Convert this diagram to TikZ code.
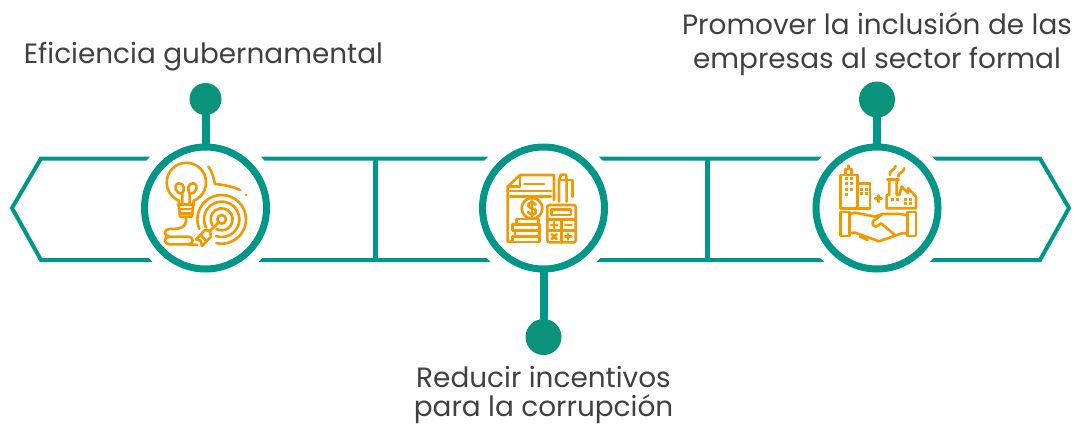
\documentclass[tikz,border=0pt]{standalone}
\usepackage{fontspec}
\setmainfont{Poppins}
\definecolor{teal1}{HTML}{009688}
\definecolor{teal2}{HTML}{0A927A}
\definecolor{ico}{HTML}{F39800}
\definecolor{txt}{HTML}{404040}
\tikzset{
  band/.style={draw=teal1,line width=4pt,line join=miter},
  sepline/.style={draw=teal1,line width=5pt},
  ringnode/.style={circle,draw=teal1,fill=white,line width=7pt,minimum size=122pt,inner sep=0pt},
  halo/.style={circle,fill=white,minimum size=151pt,inner sep=0pt},
  dotnode/.style={circle,fill=teal2,inner sep=0pt},
  stemline/.style={draw=teal1,line width=8pt,shorten >=-2pt,shorten <=-2pt},
  label/.style={font=\fontsize{27.9pt}{30pt}\selectfont,text=txt,anchor=base,inner sep=0pt},
  icon/.style={draw=ico,line width=2.6pt,line cap=round,line join=round},
}
\begin{document}
\begin{tikzpicture}[x=1pt,y=-1pt]
\useasboundingbox (0,0) rectangle (1075,423);
% band
\coordinate (tl) at (41,158.5); \coordinate (tr) at (1040,158.5);
\coordinate (bl) at (41,260); \coordinate (br) at (1040,260);
\coordinate (lt) at (12,208); \coordinate (rt) at (1069,208);
\draw[band] (lt) -- (tl) -- (tr) -- (rt) -- (br) -- (bl) -- cycle;
\coordinate (s1a) at (375,158.5); \coordinate (s1b) at (375,260);
\coordinate (s2a) at (707,158.5); \coordinate (s2b) at (707,260);
\draw[sepline] (s1a) -- (s1b);
\draw[sepline] (s2a) -- (s2b);
\node[halo] (h1) at (205.5,208) {};
\node[halo] (h2) at (543.5,208) {};
\node[halo] (h3) at (877,208) {};
% rings and stems
\node[ringnode] (r1) at (205.5,208) {};
\node[ringnode] (r2) at (543.5,208) {};
\node[ringnode] (r3) at (877,208) {};
\node[dotnode,minimum size=32pt] (d1) at (205.5,99) {};
\node[dotnode,minimum size=36pt] (d2) at (543.5,337) {};
\node[dotnode,minimum size=36pt] (d3) at (877,99.5) {};
\draw[stemline] (d1) -- (r1);
\draw[stemline] (d2) -- (r2);
\draw[stemline] (d3) -- (r3);
% labels
\node[label] (t1) at (203.5,63) {Eficiencia gubernamental};
\node[label] (t2a) at (877,34) {Promover la inclusión de las};
\node[label] (t2b) at (877,68) {empresas al sector formal};
\node[label] (t3a) at (543.5,387) {Reducir incentivos};
\node[label] (t3b) at (543.5,416) {para la corrupción};
% icon 1
\begin{scope}[shift={(160,160)},x=0.3333pt,y=-0.3333pt,icon]
\draw (57,130) -- (57,122) arc[start angle=112,end angle=428,radius=59] -- (100,130);
\draw (67,132) -- (67,100) .. controls (45,103) and (38,72) .. (57,70) .. controls (74,70) and (74,90) .. (67,100);
\draw (89,132) -- (89,100) .. controls (111,103) and (118,72) .. (99,70) .. controls (82,70) and (82,90) .. (89,100);
\draw (54,133) -- (102,133) (56,147) -- (100,147) (58,160) -- (98,160);
\draw (56,133) -- (60,170) -- (96,170) -- (100,133);
\draw (78,172) -- (78,185) .. controls (75,205) and (55,207) .. (28,207) .. controls (10,207) and (10,230) .. (28,230) -- (85,230) .. controls (102,230) and (102,253) .. (85,253) -- (28,253) .. controls (10,253) and (10,230) .. (28,230);
\draw (85,253) -- (112,255);
\draw (185,178) circle[radius=13];
\draw (185,178) ++(148:33) arc[start angle=148,end angle=477,radius=33];
\draw (185,178) ++(152:53) arc[start angle=152,end angle=469,radius=53];
\draw (185,178) ++(157:73) arc[start angle=157,end angle=463,radius=73];
\draw (177,186) -- (150,213);
\draw (150,213) -- (135,210) -- (108,238) -- (122,242) -- (126,258) -- (153,230) -- cycle;
\draw (122,224) -- (138,243);
\draw (145,20) .. controls (160,40) and (160,55) .. (165,72) .. controls (190,74) and (220,80) .. (240,90);
\fill[ico,draw=none] (258,105) circle[radius=4];
\end{scope}
% icon 2
\begin{scope}[shift={(470,140)},x=0.3333pt,y=-0.3333pt,icon]
\draw (252,180) -- (252,105) -- (150,105) -- (113,140) -- (113,305) -- (128,305);
\draw (150,105) -- (150,140) -- (113,140);
\draw (163,132) -- (222,132) (120,153) -- (243,153) (120,170) -- (243,170);
\draw[fill=white] (186,205) circle[radius=31];
\draw (197,194) .. controls (190,182) and (172,188) .. (175,198) .. controls (178,208) and (198,202) .. (198,215) .. controls (198,226) and (180,226) .. (174,216);
\draw (186,180) -- (186,230);
\draw[fill=white] (140,237) rectangle (205,253);
\draw[fill=white] (128,253) rectangle (208,272);
\draw[fill=white] (135,272) rectangle (208,290);
\draw[fill=white] (128,290) rectangle (208,306);
\draw[rounded corners=2pt] (232,195) rectangle (317,307);
\draw (245,208) rectangle (303,225);
\draw (232,238) -- (317,238) (232,272) -- (317,272) (275,238) -- (275,307);
\draw (243,255) -- (262,255) (252.5,246) -- (252.5,264);
\draw (286,255) -- (305,255);
\draw (245,283) -- (260,297) (260,283) -- (245,297);
\draw (285,290) -- (304,290) (294.5,281) -- (294.5,299);
\draw (267,185) -- (267,120) -- (273,104) -- (288,104) -- (290,120) -- (290,185);
\draw (267,120) -- (308,120) -- (308,170);
\end{scope}
% icon 3
\begin{scope}[shift={(805,140)},x=0.3333pt,y=-0.3333pt,icon]
\draw (107,105) rectangle (158,205);
\draw (122,105) -- (122,87) -- (140,87) -- (140,105) (131,87) -- (131,77);
\draw (158,131) -- (195,131) -- (195,205) -- (158,205);
\foreach \xx/\yy in {125/115,140/115,125/132,140/132,125/148,140/148,125/163,168/148,183/148,168/160,183/160,262/178,277/178,302/178,315/178,302/190,315/190}{\fill[ico,draw=none] (\xx-4.5,\yy-4.5) rectangle (\xx+4.5,\yy+4.5);}
\draw (210,176) -- (230,176) (220,166) -- (220,186);
\draw (245,205) -- (245,165) -- (253,165) -- (253,118) -- (275,118) -- (275,165) -- (283,165) -- (290,140) -- (308,158) -- (310,145) -- (333,170) -- (333,205) -- cycle;
\draw (247,118) -- (281,118);
\draw (272,78) .. controls (270,92) and (252,88) .. (255,105);
\draw (298,85) .. controls (296,100) and (278,96) .. (280,110);
\draw (107,216) rectangle (133,288);
\draw (308,216) rectangle (333,288);
\draw (133,222) -- (150,218) -- (210,230) -- (232,222) -- (285,222) -- (308,226);
\draw (133,280) -- (150,278) -- (222,304) -- (262,290) -- (290,280) -- (308,280);
\draw (232,222) -- (205,243) .. controls (198,252) and (208,264) .. (218,258) -- (228,250) -- (270,285);
\draw (165,290) -- (188,300);
\end{scope}
\end{tikzpicture}
\end{document}
